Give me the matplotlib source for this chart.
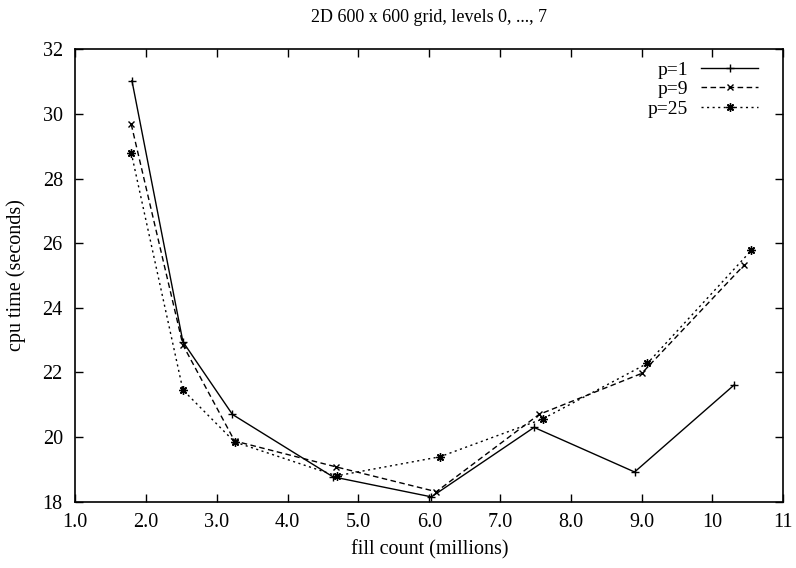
import matplotlib
matplotlib.use('Agg')
import matplotlib.pyplot as plt
from matplotlib.ticker import FixedLocator, FixedFormatter

plt.rcParams['font.family'] = ['Liberation Serif', 'DejaVu Serif']

# p=1
x_p1 = [1.80, 2.52, 3.22, 4.64, 6.03, 7.48, 8.90, 10.31]
y_p1 = [31.03, 22.95, 20.70, 18.77, 18.15, 20.30, 18.92, 21.62]
# p=9
x_p9 = [1.79, 2.52, 3.25, 4.68, 6.10, 7.55, 9.00, 10.45]
y_p9 = [29.68, 22.85, 19.88, 19.08, 18.31, 20.70, 21.97, 25.33]
# p=25
x_p25 = [1.79, 2.52, 3.25, 4.69, 6.15, 7.60, 9.08, 10.55]
y_p25 = [28.80, 21.46, 19.85, 18.80, 19.39, 20.56, 22.28, 25.78]

xticks = [1, 2, 3, 4, 5, 6, 7, 8, 9, 10, 11]
xticklabels = ['1.0', '2.0', '3.0', '4.0', '5.0', '6.0', '7.0', '8.0', '9.0', '10', '11']
yticks = [18, 20, 22, 24, 26, 28, 30, 32]

fig = plt.figure(figsize=(7.96, 5.68), dpi=100)
ax = fig.add_axes([0.0946, 0.1167, 0.8894, 0.7965])

ax.plot(x_p1, y_p1, color='black', lw=1.0, marker='+', ms=6, mew=1.0,
        label='p=1')
ax.plot(x_p9, y_p9, color='black', lw=1.0, marker='x', ms=5, mew=1.0,
        dashes=(4, 2.5), label='p=9')
ax.plot(x_p25, y_p25, color='black', lw=1.0, marker=(8, 2, 0), ms=6, mew=1.0,
        dashes=(1.5, 2.5), label='p=25')

ax.set_xlim(1, 11)
ax.set_ylim(18, 32)
ax.xaxis.set_major_locator(FixedLocator(xticks))
ax.xaxis.set_major_formatter(FixedFormatter(xticklabels))
ax.set_yticks(yticks)
ax.tick_params(direction='in', length=6, width=1, top=True, right=True,
               labelsize=14.5)
ax.tick_params(axis='x', pad=8)
ax.tick_params(axis='y', pad=9)
for s in ax.spines.values():
    s.set_linewidth(1.2)

ax.set_title('2D 600 x 600 grid, levels 0, ..., 7', fontsize=13, pad=20)
ax.set_xlabel('fill count (millions)', fontsize=14.5, labelpad=6)
ax.set_ylabel('cpu time (seconds)', fontsize=14.5, labelpad=12)

leg = ax.legend(loc='upper right', bbox_to_anchor=(0.964, 0.974),
                frameon=False, markerfirst=False,
                fontsize=14, handlelength=2.9, handletextpad=0.7,
                labelspacing=0.1, borderaxespad=0, borderpad=0)
for t in leg.get_texts():
    t.set_ha('right')

fig.savefig('out.png', dpi=100)
